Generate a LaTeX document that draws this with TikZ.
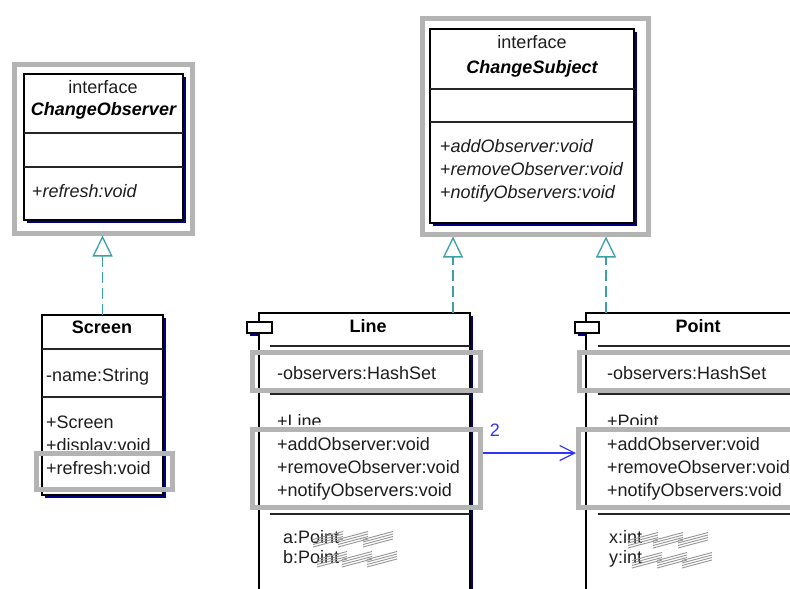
\documentclass[tikz,border=0pt]{standalone}
\usepackage{fontspec}
\setmainfont{Liberation Sans}
\usetikzlibrary{arrows.meta,shadows}
\definecolor{hlgray}{RGB}{180,180,180}
\definecolor{shadowblue}{RGB}{0,0,128}
\definecolor{tealc}{RGB}{60,160,165}
\definecolor{assocblue}{RGB}{50,50,255}
\definecolor{scribgray}{RGB}{150,150,150}
\definecolor{txtc}{RGB}{30,30,30}
\newcommand\myscrib[2]{%
  \foreach \k in {0,1,2}{\foreach \j in {0,1,2,3}{%
    \draw[scribline] ({#1+25*\k},{#2-2.5*\j}) -- ++(30,-8);}}}
\begin{document}
\begin{tikzpicture}[x=1pt,y=-1pt,
  umlbox/.style={draw=black, line width=1.2pt, fill=white, inner sep=0, outer sep=0,
    anchor=north west,
    general shadow={fill=shadowblue, shadow xshift=3pt, shadow yshift=-3pt}},
  hlframe/.style={draw=hlgray, line width=5pt, inner sep=0, anchor=north west},
  divline/.style={line width=1.1pt, draw=black!85},
  txt/.style={inner sep=0, anchor=base west, text=txtc, font=\fontsize{18}{22}\selectfont},
  ttl/.style={inner sep=0, anchor=base, text=black, font=\fontsize{18}{22}\selectfont\bfseries},
  itl/.style={inner sep=0, anchor=base, text=txtc, font=\fontsize{18}{22}\selectfont},
  realize/.style={draw=tealc, line width=1.3pt, dash pattern=on 11pt off 5pt,
    -{Triangle[open, length=21pt, width=20pt]}},
  assoc/.style={draw=assocblue, line width=1.2pt, -{Straight Barb[length=15pt, width=15pt]}},
  scribline/.style={draw=scribgray, line width=0.9pt},
  icon/.style={draw=black, line width=1.1pt, fill=white, inner sep=0, outer sep=0,
    anchor=north west, minimum width=25pt, minimum height=11pt}]
\useasboundingbox[fill=white] (0,0) rectangle (790,589);

% ---------- boxes ----------
\node[umlbox, minimum width=159pt, minimum height=146pt] (cobs) at (24,74) {};
\node[umlbox, minimum width=204pt, minimum height=194pt] (csub) at (430,29) {};
\node[umlbox, minimum width=121pt, minimum height=180pt] (screen) at (42,315) {};
\node[umlbox, minimum width=211pt, minimum height=320pt] (line) at (259,313) {};
\node[umlbox, minimum width=260pt, minimum height=320pt] (point) at (586,313) {};

% ---------- dividers ----------
\draw[divline] (24,133) -- (183,133);
\draw[divline] (24,167) -- (183,167);
\draw[divline] (430,89) -- (634,89);
\draw[divline] (430,122) -- (634,122);
\draw[divline] (42,349) -- (163,349);
\draw[divline] (42,397) -- (163,397);
\foreach \yy in {346,394,514}{
  \draw[divline] (270,\yy) -- (470,\yy);
  \draw[divline] (598,\yy) -- (846,\yy);
}

% ---------- icons ----------
\fill[shadowblue] (250,333) rectangle (258,336);
\node[icon] (licon) at (247,322) {};
\fill[shadowblue] (578,333) rectangle (586,336);
\node[icon, minimum width=24pt] (picon) at (575,322) {};

% ---------- texts ----------
\node[itl] (t1) at (103,93) {interface};
\node[itl, font=\fontsize{18}{22}\selectfont\bfseries\itshape, text=black] (t2) at (103.5,115) {ChangeObserver};
\node[txt] (t3) at (32,197) {+\textit{refresh:void}};

\node[itl] (t4) at (532,48) {interface};
\node[itl, font=\fontsize{18}{22}\selectfont\bfseries\itshape, text=black] (t5) at (532,73) {ChangeSubject};
\node[txt] (t6) at (440,152) {+\textit{addObserver:void}};
\node[txt] (t7) at (440,175) {+\textit{removeObserver:void}};
\node[txt] (t8) at (440,198) {+\textit{notifyObservers:void}};

\node[ttl] (t9) at (102,333) {Screen};
\node[txt] (t10) at (46,381) {-name:String};
\node[txt] (t11) at (46,428) {+Screen};
\begin{scope}
  \clip (0,0) rectangle (200,449);
  \node[txt] (t12) at (46,451) {+display:void};
\end{scope}
\node[txt] (t13) at (46,474) {+refresh:void};

\node[ttl] (t14) at (368,332) {Line};
\node[txt] (t15) at (277,379) {-observers:HashSet};
\begin{scope}
  \clip (200,0) rectangle (500,424);
  \node[txt] (t16) at (277,427) {+Line};
\end{scope}
\node[txt] (t17) at (277,450) {+addObserver:void};
\node[txt] (t18) at (277,473) {+removeObserver:void};
\node[txt] (t19) at (277,496) {+notifyObservers:void};
\node[txt] (t20) at (283,543) {a:Point};
\node[txt] (t21) at (283,563) {b:Point};

\node[ttl] (t22) at (698,332) {Point};
\node[txt] (t23) at (607,379) {-observers:HashSet};
\begin{scope}
  \clip (560,0) rectangle (790,424);
  \node[txt] (t24) at (607,427) {+Point};
\end{scope}
\node[txt] (t25) at (607,450) {+addObserver:void};
\node[txt] (t26) at (607,473) {+removeObserver:void};
\node[txt] (t27) at (607,496) {+notifyObservers:void};
\node[txt] (t28) at (609,543) {x:int};
\node[txt] (t29) at (609,563) {y:int};

% ---------- scribbles ----------
\myscrib{313}{547}
\myscrib{317}{567}
\myscrib{628}{548}
\myscrib{632}{568}

% ---------- highlight frames ----------
\node[hlframe, minimum width=178pt, minimum height=169pt] (fobs) at (11.5,61.5) {};
\node[hlframe, minimum width=226pt, minimum height=216pt] (fsub) at (419.5,15.5) {};
\node[hlframe, minimum width=135.5pt, minimum height=36pt] (fref) at (34,451) {};
\node[hlframe, minimum width=228pt, minimum height=37.5pt] (flobs) at (249.5,350) {};
\node[hlframe, minimum width=228pt, minimum height=78pt] (flmeth) at (249.5,426.5) {};
\node[hlframe, minimum width=243.5pt, minimum height=37.5pt] (fpobs) at (576.5,350) {};
\node[hlframe, minimum width=244pt, minimum height=78pt] (fpmeth) at (576,426.5) {};

% ---------- connectors ----------
\coordinate (lr) at (453,313);
\coordinate (pr) at (606,313);
\coordinate (ay) at (0,453);
\draw[realize] (screen.north) -- (screen.north |- fobs.south);
\draw[realize] (lr) -- (lr |- fsub.south);
\draw[realize] (pr) -- (pr |- fsub.south);
\draw[assoc] (flmeth.east |- ay) -- (fpmeth.west |- ay);
\node[inner sep=0, text=assocblue, font=\fontsize{18}{22}\selectfont] (n2) at (495,430) {2};
\end{tikzpicture}
\end{document}
